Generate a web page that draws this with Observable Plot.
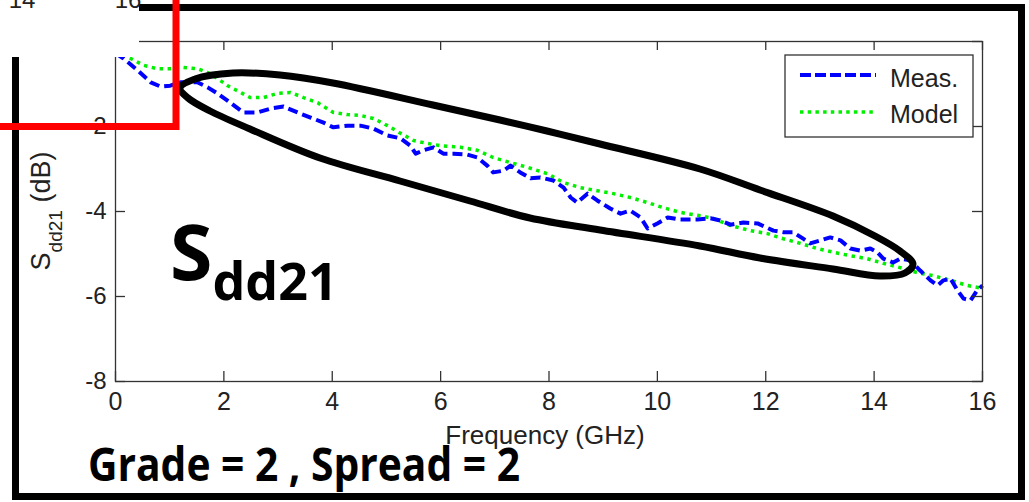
<!DOCTYPE html>
<html><head><meta charset="utf-8">
<script src="https://cdn.jsdelivr.net/npm/d3@7"></script>
<script src="https://cdn.jsdelivr.net/npm/@observablehq/plot@0.6"></script>
<style>
html,body{margin:0;padding:0;background:#fff;overflow:hidden}
#chart{position:relative;width:1029px;height:502px}
#chart svg{display:block}
</style></head><body><div id="chart"></div>
<script>
// ---- data ----
const measFreq = [0,0.15,0.41,0.65,0.83,1.01,1.20,1.51,1.70,1.88,2.12,2.36,2.62,2.86,3.10,3.36,3.60,3.84,4.02,4.28,4.52,4.76,5.02,5.26,5.44,5.54,5.68,5.87,6.05,6.24,6.49,6.68,6.86,6.97,7.16,7.29,7.47,7.66,7.84,8.08,8.27,8.40,8.52,8.71,8.89,9.13,9.32,9.50,9.69,9.82,10.00,10.19,10.42,10.74,10.98,11.16,11.35,11.59,11.85,12.14,12.33,12.51,12.69,12.82,13.01,13.19,13.38,13.56,13.75,13.93,14.06,14.17,14.35,14.48,14.67,14.85,15.04,15.17,15.28,15.41,15.54,15.65,15.78,15.90,16.00];
const measDb = [-0.28,-0.40,-0.68,-0.96,-1.06,-1.04,-0.96,-0.96,-1.08,-1.22,-1.44,-1.67,-1.67,-1.58,-1.53,-1.67,-1.79,-1.91,-2.02,-1.98,-1.98,-2.05,-2.21,-2.28,-2.45,-2.64,-2.56,-2.49,-2.64,-2.64,-2.66,-2.73,-2.92,-3.08,-3.04,-2.92,-3.08,-3.22,-3.20,-3.27,-3.44,-3.67,-3.79,-3.58,-3.74,-3.93,-4.05,-3.98,-4.14,-4.40,-4.28,-4.14,-4.19,-4.19,-4.16,-4.21,-4.31,-4.26,-4.28,-4.45,-4.49,-4.49,-4.64,-4.75,-4.68,-4.61,-4.68,-4.87,-4.92,-4.87,-4.96,-5.11,-5.20,-5.11,-5.15,-5.39,-5.62,-5.74,-5.62,-5.58,-5.86,-6.05,-6.09,-5.86,-5.74];
const modelFreq = [0,0.28,0.52,0.77,1.01,1.25,1.51,1.70,1.88,2.07,2.31,2.49,2.73,2.99,3.23,3.47,3.73,4.02,4.28,4.52,4.76,5.02,5.26,5.50,5.76,6.00,6.37,6.68,6.97,7.29,7.60,7.97,8.27,8.58,8.89,9.19,9.50,9.82,10.11,10.42,10.74,11.03,11.35,11.72,12.03,12.32,12.64,12.95,13.25,13.56,13.87,14.17,14.48,14.80,15.09,15.41,15.72,16.00];
const modelDb = [-0.22,-0.40,-0.56,-0.64,-0.64,-0.61,-0.64,-0.73,-0.87,-1.04,-1.20,-1.32,-1.32,-1.22,-1.20,-1.32,-1.44,-1.67,-1.72,-1.74,-1.81,-1.98,-2.16,-2.33,-2.40,-2.45,-2.49,-2.56,-2.73,-2.85,-2.96,-3.11,-3.32,-3.44,-3.51,-3.58,-3.67,-3.79,-3.91,-4.02,-4.09,-4.16,-4.33,-4.45,-4.52,-4.64,-4.75,-4.87,-4.96,-5.04,-5.11,-5.22,-5.32,-5.44,-5.51,-5.62,-5.74,-5.81];
const seriesNames = ["Meas.", "Model"];
const xTicks = [0,2,4,6,8,10,12,14,16];
const yTicks = [0,-2,-4,-6,-8];
const xLabel = "Frequency (GHz)";
const yLabelParts = ["S", "dd21", " (dB)"];
const bigLabelParts = ["S", "dd21"];
const footerText = "Grade = 2 , Spread = 2";
const cutTickLabels = ["14", "16"];

// ---- layout ----
const W = 1029, H = 502;
const mL = 115, mR = 47, mT = 41, mB = 121;
const innerW = W - mL - mR, innerH = H - mT - mB;
const BLUE = "#0000ff", GREEN = "#00f000";
const axisFont = "'Liberation Sans', Arial, Helvetica, sans-serif";
const boldFont = "'Open Sans', 'Lato', sans-serif";

const measRows = measFreq.map((f, i) => ({f, db: measDb[i]}));
const modelRows = modelFreq.map((f, i) => ({f, db: modelDb[i]}));

const plot = Plot.plot({
  width: W, height: H,
  marginLeft: mL, marginRight: mR, marginTop: mT, marginBottom: mB,
  style: {fontFamily: axisFont, background: "white", color: "#222"},
  x: {domain: [0, 16]},
  y: {domain: [-8, 0]},
  marks: [
    Plot.line(modelRows, {x: "f", y: "db", stroke: GREEN, strokeWidth: 3.5, strokeDasharray: "3.5,4.5", strokeLinecap: "butt"}),
    Plot.line(measRows, {x: "f", y: "db", stroke: BLUE, strokeWidth: 4, strokeDasharray: "10,5", strokeLinecap: "butt"}),
    Plot.frame({stroke: "#333", strokeWidth: 1.3}),
    Plot.tickX(xTicks, {x: d => d, stroke: "#333", strokeWidth: 1.3, insetTop: innerH - 10}),
    Plot.tickX(xTicks, {x: d => d, stroke: "#333", strokeWidth: 1.3, insetBottom: innerH - 9}),
    Plot.tickY(yTicks, {y: d => d, stroke: "#333", strokeWidth: 1.3, insetRight: innerW - 10}),
    Plot.tickY(yTicks, {y: d => d, stroke: "#333", strokeWidth: 1.3, insetLeft: innerW - 10}),
    Plot.axisX(xTicks, {anchor: "bottom", tickSize: 0, tickPadding: 11, fontSize: 25, tickFormat: d => String(d), label: null, fill: "#222"}),
    Plot.axisY(yTicks, {anchor: "left", tickSize: 0, tickPadding: 9, fontSize: 24, tickFormat: d => String(d), label: null, fill: "#222"})
  ]
});
document.getElementById("chart").appendChild(plot);

// ---- annotations ----
const svg = d3.select(plot);
const T = (x, y, anchor) => svg.append("text").attr("x", x).attr("y", y).attr("text-anchor", anchor || "start");

// axis titles
T(545, 444, "middle").attr("font-family", axisFont).attr("font-size", 26).attr("fill", "#222").text(xLabel);
const yl = svg.append("text").attr("transform", "translate(50,211) rotate(-90)")
  .attr("text-anchor", "middle").attr("font-family", axisFont).attr("font-size", 27).attr("fill", "#222");
yl.append("tspan").text(yLabelParts[0]);
yl.append("tspan").attr("font-size", 19).attr("dy", 12).text(yLabelParts[1]);
yl.append("tspan").attr("dy", -12).text(yLabelParts[2]);

// legend
const lg = svg.append("g");
lg.append("rect").attr("x", 785).attr("y", 55).attr("width", 188).attr("height", 82)
  .attr("fill", "white").attr("stroke", "#333").attr("stroke-width", 1.3);
lg.append("line").attr("x1", 800).attr("x2", 876).attr("y1", 75).attr("y2", 75)
  .attr("stroke", BLUE).attr("stroke-width", 4).attr("stroke-dasharray", "11,4");
lg.append("line").attr("x1", 800).attr("x2", 876).attr("y1", 112).attr("y2", 112)
  .attr("stroke", GREEN).attr("stroke-width", 3.5).attr("stroke-dasharray", "3.5,4.2");
T(890, 87).attr("font-family", axisFont).attr("font-size", 25).attr("fill", "#222").text(seriesNames[0]);
T(890, 123).attr("font-family", axisFont).attr("font-size", 25).attr("fill", "#222").text(seriesNames[1]);

// hand-drawn ellipse
const outline = [[180,88],[195,79],[233,73],[280,75],[333,83],[433,105],[500,120],[547,131],[600,144],[700,169],[760,190],[833,216],[875,236],[900,251],[913,264],[905,273],[880,276],[833,269],[760,258],[700,246],[600,230],[530,218],[470,201],[400,181],[320,158],[250,129],[210,111],[188,98]];
svg.append("path").attr("d", d3.line().curve(d3.curveCatmullRomClosed.alpha(0.5))(outline))
  .attr("fill", "none").attr("stroke", "#000").attr("stroke-width", 7);

// big bold labels
const big = T(170, 280).attr("font-family", boldFont).attr("font-weight", 700).attr("fill", "#000");
big.append("tspan").attr("font-size", 77).text(bigLabelParts[0]);
big.append("tspan").attr("font-size", 52).attr("dy", 20).text(bigLabelParts[1]);

T(88, 481).attr("font-family", boldFont).attr("font-weight", 700)
  .attr("font-size", 47).attr("fill", "#000").attr("textLength", 432).attr("lengthAdjust", "spacingAndGlyphs").text(footerText);

// outer black border
svg.append("rect").attr("x", 15.5).attr("y", 7.5).attr("width", 1006).attr("height", 489)
  .attr("fill", "none").attr("stroke", "#000").attr("stroke-width", 7);

// white cut-out (top-left)
svg.append("rect").attr("x", 0).attr("y", 0).attr("width", 139).attr("height", 57).attr("fill", "white");
T(22, 8, "middle").attr("font-family", axisFont).attr("font-size", 24).attr("fill", "#222").text(cutTickLabels[0]);
T(128, 8, "middle").attr("font-family", axisFont).attr("font-size", 24).attr("fill", "#222").text(cutTickLabels[1]);

// red L mark
svg.append("path").attr("d", "M0,126.5 H176 V0").attr("fill", "none")
  .attr("stroke", "#ff0000").attr("stroke-width", 7).attr("stroke-linejoin", "miter");
</script></body></html>
